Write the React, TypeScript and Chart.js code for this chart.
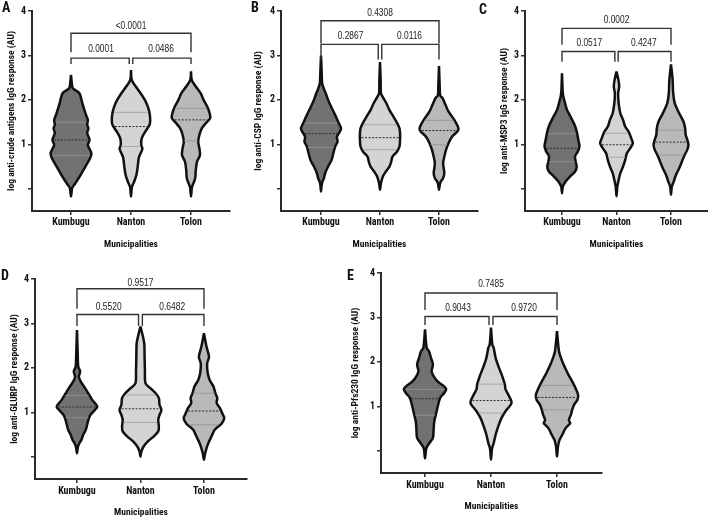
import React, { useEffect, useRef } from 'react';
import { Chart, registerables } from 'chart.js';

Chart.register(...registerables);

const FONT = '"Liberation Sans Narrow", "Roboto Condensed", Roboto, "Liberation Sans", sans-serif';
const PFONT = '"Liberation Sans", Arial, sans-serif';

const categories = ['Kumbugu', 'Nanton', 'Tolon'];
const yTickValues = [0, 1, 2, 3, 4];
const yTickLabels = ['', '1', '2', '3', '4'];
const xTitle = 'Municipalities';

// ---------- Panel A: crude antigens ----------
const aKumY = [2.56, 2.40, 2.26, 2.15, 1.92, 1.70, 1.55, 1.44, 1.36, 1.25, 1.10, 0.99, 0.80, 0.69, 0.50, 0.31, 0.12, 0.02, -0.17];
const aKumW = [0, 0.012, 0.03, 0.14, 0.19, 0.24, 0.28, 0.27, 0.29, 0.27, 0.31, 0.28, 0.34, 0.32, 0.24, 0.16, 0.07, 0.02, 0];
const aNanY = [2.67, 2.45, 2.30, 2.15, 2.00, 1.85, 1.70, 1.55, 1.44, 1.29, 1.14, 0.99, 0.90, 0.80, 0.70, 0.48, 0.31, 0.15, 0.04, -0.17];
const aNanW = [0, 0.012, 0.08, 0.16, 0.23, 0.28, 0.31, 0.32, 0.31, 0.24, 0.18, 0.17, 0.19, 0.16, 0.13, 0.11, 0.09, 0.05, 0.015, 0];
const aTolY = [2.64, 2.45, 2.30, 2.15, 2.00, 1.85, 1.70, 1.59, 1.48, 1.36, 1.21, 1.06, 0.91, 0.76, 0.61, 0.42, 0.24, 0.12, 0.03, -0.17];
const aTolW = [0, 0.012, 0.08, 0.16, 0.21, 0.27, 0.31, 0.32, 0.25, 0.18, 0.14, 0.12, 0.14, 0.15, 0.10, 0.08, 0.07, 0.04, 0.015, 0];
const aMedians = [1.10, 1.40, 1.55];
const aUpperQ = [1.50, 1.72, 1.81];
const aLowerQ = [0.75, 0.95, 1.08];
const aPvals = ['0.0001', '0.0486', '<0.0001'];

// ---------- Panel B: CSP ----------
const bKumY = [3.00, 2.60, 2.37, 2.26, 2.15, 2.00, 1.85, 1.66, 1.51, 1.36, 1.29, 1.17, 1.06, 0.95, 0.80, 0.65, 0.50, 0.35, 0.24, 0.12, -0.06];
const bKumW = [0, 0.012, 0.02, 0.045, 0.08, 0.12, 0.17, 0.24, 0.29, 0.34, 0.32, 0.27, 0.28, 0.24, 0.21, 0.18, 0.12, 0.07, 0.05, 0.015, 0];
const bNanY = [2.85, 2.40, 2.15, 2.07, 1.92, 1.77, 1.62, 1.48, 1.36, 1.25, 1.10, 0.95, 0.84, 0.72, 0.61, 0.50, 0.39, 0.28, 0.12, -0.02];
const bNanW = [0, 0.012, 0.015, 0.045, 0.11, 0.16, 0.23, 0.29, 0.33, 0.34, 0.34, 0.33, 0.29, 0.21, 0.19, 0.16, 0.10, 0.05, 0.015, 0];
const bTolY = [2.76, 2.30, 2.10, 2.04, 1.89, 1.74, 1.59, 1.48, 1.36, 1.29, 1.17, 1.02, 0.88, 0.72, 0.58, 0.46, 0.35, 0.24, 0.16, 0.10, -0.02];
const bTolW = [0, 0.012, 0.02, 0.06, 0.11, 0.16, 0.24, 0.29, 0.33, 0.31, 0.22, 0.16, 0.12, 0.09, 0.07, 0.08, 0.09, 0.07, 0.03, 0.015, 0];
const bMedians = [1.24, 1.15, 1.31];
const bUpperQ = [1.48, 1.44, 1.54];
const bLowerQ = [0.93, 0.88, 0.99];
const bPvals = ['0.2867', '0.0116', '0.4308'];

// ---------- Panel C: MSP3 ----------
const cKumY = [2.60, 2.20, 2.07, 2.00, 1.78, 1.59, 1.44, 1.29, 1.10, 0.95, 0.84, 0.73, 0.61, 0.50, 0.39, 0.28, 0.17, 0.05, -0.10];
const cKumW = [0, 0.012, 0.025, 0.04, 0.09, 0.17, 0.23, 0.27, 0.30, 0.32, 0.29, 0.24, 0.25, 0.27, 0.24, 0.15, 0.07, 0.015, 0];
const cNanY = [2.64, 2.45, 2.30, 2.15, 1.92, 1.70, 1.55, 1.40, 1.29, 1.14, 1.02, 0.91, 0.80, 0.65, 0.50, 0.35, 0.20, 0.05, -0.17];
const cNanW = [0, 0.035, 0.05, 0.03, 0.04, 0.07, 0.12, 0.16, 0.22, 0.27, 0.30, 0.25, 0.19, 0.16, 0.12, 0.07, 0.04, 0.015, 0];
const cTolY = [2.80, 2.45, 2.15, 1.92, 1.70, 1.51, 1.36, 1.21, 1.10, 0.99, 0.88, 0.76, 0.61, 0.46, 0.31, 0.16, 0.05, -0.13];
const cTolW = [0, 0.03, 0.04, 0.07, 0.15, 0.23, 0.26, 0.27, 0.30, 0.32, 0.30, 0.25, 0.20, 0.15, 0.09, 0.05, 0.015, 0];
const cMedians = [0.91, 0.99, 1.05];
const cUpperQ = [1.24, 1.25, 1.32];
const cLowerQ = [0.61, 0.71, 0.76];
const cPvals = ['0.0517', '0.4247', '0.0002'];

// ---------- Panel D: GLURP ----------
const dKumY = [2.85, 2.30, 2.03, 1.92, 1.80, 1.69, 1.54, 1.40, 1.28, 1.13, 1.05, 0.94, 0.83, 0.72, 0.61, 0.50, 0.38, 0.31, 0.22, 0.08];
const dKumW = [0, 0.012, 0.02, 0.05, 0.03, 0.06, 0.13, 0.19, 0.24, 0.32, 0.28, 0.21, 0.18, 0.16, 0.14, 0.10, 0.07, 0.04, 0.015, 0];
const dNanY = [2.93, 2.70, 2.55, 2.25, 1.95, 1.65, 1.54, 1.43, 1.32, 1.17, 1.05, 0.94, 0.83, 0.68, 0.57, 0.46, 0.35, 0.23, 0.12, 0.0];
const dNanW = [0, 0.04, 0.06, 0.065, 0.07, 0.08, 0.16, 0.24, 0.29, 0.30, 0.33, 0.30, 0.28, 0.29, 0.28, 0.21, 0.12, 0.05, 0.015, 0];
const dTolY = [2.78, 2.48, 2.25, 2.10, 1.88, 1.73, 1.58, 1.43, 1.32, 1.21, 1.10, 0.94, 0.87, 0.75, 0.61, 0.46, 0.31, 0.19, 0.05, -0.07];
const dTolW = [0, 0.04, 0.08, 0.05, 0.06, 0.09, 0.15, 0.18, 0.21, 0.20, 0.25, 0.30, 0.32, 0.28, 0.17, 0.12, 0.07, 0.04, 0.015, 0];
const dMedians = [1.12, 1.08, 1.03];
const dUpperQ = [1.38, 1.39, 1.43];
const dLowerQ = [0.88, 0.77, 0.72];
const dPvals = ['0.5520', '0.6482', '0.9517'];

// ---------- Panel E: Pfs230 ----------
const eKumY = [2.73, 2.32, 2.24, 2.09, 1.94, 1.79, 1.68, 1.56, 1.45, 1.38, 1.30, 1.19, 1.04, 0.85, 0.66, 0.47, 0.29, 0.18, 0.06, -0.17];
const eKumW = [0, 0.025, 0.06, 0.09, 0.12, 0.10, 0.13, 0.19, 0.29, 0.32, 0.29, 0.23, 0.20, 0.17, 0.14, 0.13, 0.12, 0.07, 0.02, 0];
const eNanY = [2.77, 2.39, 2.32, 2.09, 1.87, 1.68, 1.49, 1.38, 1.27, 1.11, 1.04, 0.89, 0.74, 0.55, 0.36, 0.17, 0.05, -0.20];
const eNanW = [0, 0.02, 0.04, 0.07, 0.12, 0.17, 0.21, 0.22, 0.26, 0.31, 0.30, 0.22, 0.16, 0.11, 0.07, 0.04, 0.015, 0];
const eTolY = [2.69, 2.24, 2.09, 1.94, 1.75, 1.56, 1.41, 1.26, 1.15, 1.04, 0.92, 0.81, 0.69, 0.62, 0.51, 0.36, 0.25, 0.10, -0.13];
const eTolW = [0, 0.03, 0.06, 0.10, 0.16, 0.23, 0.28, 0.32, 0.31, 0.26, 0.23, 0.21, 0.18, 0.20, 0.13, 0.08, 0.04, 0.015, 0];
const eMedians = [1.17, 1.13, 1.20];
const eUpperQ = [1.38, 1.50, 1.47];
const eLowerQ = [0.80, 0.85, 0.92];
const ePvals = ['0.9043', '0.9720', '0.7485'];

const fillColors = ['#727272', '#d4d4d4', '#b9b9b9'];
const quartColors = ['#8e8e8e', '#a8a8a8', '#9a9a9a'];

type Panel = {
  letter: string;
  yTitle: string;
  profiles: [number[], number[]][];
  medians: number[];
  upperQ: number[];
  lowerQ: number[];
  pvals: string[];
  bracket: { topY: number; topLeg: number; topLabel: number; lowY: number; lowLeg: number; lowLabel: number };
  box: { left: number; top: number; w: number; h: number };
  pad: { top: number; right: number };
  yw: number; xh: number; yTitlePad: number; xTitlePad: number; xTickPad: number;
  xmin: number; xmax: number;
  letterPos: { left: number; top: number };
};

const panels: Panel[] = [
  {
    letter: 'A', yTitle: 'log anti-crude antigens IgG response (AU)',
    profiles: [[aKumY, aKumW], [aNanY, aNanW], [aTolY, aTolW]],
    medians: aMedians, upperQ: aUpperQ, lowerQ: aLowerQ, pvals: aPvals,
    bracket: { topY: 3.5, topLeg: 3.07, topLabel: 3.66, lowY: 2.94, lowLeg: 2.81, lowLabel: 3.14 },
    box: { left: 0, top: 0, w: 235, h: 255 }, pad: { top: 11, right: 5 },
    yw: 32, xh: 44, yTitlePad: 6, xTitlePad: 5, xTickPad: 1.5,
    xmin: 0.35, xmax: 3.65, letterPos: { left: 2, top: 0 },
  },
  {
    letter: 'B', yTitle: 'log anti-CSP IgG response (AU)',
    profiles: [[bKumY, bKumW], [bNanY, bNanW], [bTolY, bTolW]],
    medians: bMedians, upperQ: bUpperQ, lowerQ: bLowerQ, pvals: bPvals,
    bracket: { topY: 3.78, topLeg: 3.27, topLabel: 3.95, lowY: 3.25, lowLeg: 2.91, lowLabel: 3.44 },
    box: { left: 235, top: 0, w: 245, h: 255 }, pad: { top: 11, right: 2 },
    yw: 46, xh: 44, yTitlePad: 17.5, xTitlePad: 5, xTickPad: 1.5,
    xmin: 0.322, xmax: 3.661, letterPos: { left: 251, top: 0 },
  },
  {
    letter: 'C', yTitle: 'log anti-MSP3 IgG response (AU)',
    profiles: [[cKumY, cKumW], [cNanY, cNanW], [cTolY, cTolW]],
    medians: cMedians, upperQ: cUpperQ, lowerQ: cLowerQ, pvals: cPvals,
    bracket: { topY: 3.61, topLeg: 3.24, topLabel: 3.80, lowY: 3.09, lowLeg: 2.86, lowLabel: 3.27 },
    box: { left: 482, top: 0, w: 226, h: 255 }, pad: { top: 11, right: 0 },
    yw: 43, xh: 44, yTitlePad: 16.5, xTitlePad: 5, xTickPad: 1.5,
    xmin: 0.321, xmax: 3.679, letterPos: { left: 479, top: 2 },
  },
  {
    letter: 'D', yTitle: 'log anti-GLURP IgG response (AU)',
    profiles: [[dKumY, dKumW], [dNanY, dNanW], [dTolY, dTolW]],
    medians: dMedians, upperQ: dUpperQ, lowerQ: dLowerQ, pvals: dPvals,
    bracket: { topY: 3.78, topLeg: 3.33, topLabel: 3.91, lowY: 3.20, lowLeg: 2.94, lowLabel: 3.36 },
    box: { left: 0, top: 255, w: 350, h: 263 }, pad: { top: 24, right: 103 },
    yw: 35, xh: 39, yTitlePad: 8.5, xTitlePad: 0, xTickPad: 2.5,
    xmin: 0.339, xmax: 3.678, letterPos: { left: 1, top: 268 },
  },
  {
    letter: 'E', yTitle: 'log anti-Pfs230 IgG response (AU)',
    profiles: [[eKumY, eKumW], [eNanY, eNanW], [eTolY, eTolW]],
    medians: eMedians, upperQ: eUpperQ, lowerQ: eLowerQ, pvals: ePvals,
    bracket: { topY: 3.55, topLeg: 3.17, topLabel: 3.74, lowY: 3.02, lowLeg: 2.83, lowLabel: 3.21 },
    box: { left: 350, top: 255, w: 358, h: 263 }, pad: { top: 18, right: 106 },
    yw: 31, xh: 45, yTitlePad: 0, xTitlePad: 5.5, xTickPad: 2,
    xmin: 0.333, xmax: 3.682, letterPos: { left: 347, top: 268 },
  },
];

function halfWidthAt(ys: number[], ws: number[], v: number): number {
  for (let i = 0; i < ys.length - 1; i++) {
    const a = ys[i];
    const b = ys[i + 1];
    if (v <= a && v >= b) {
      const t = (a - v) / (a - b);
      return ws[i] + t * (ws[i + 1] - ws[i]);
    }
  }
  return 0;
}

function violinPoints(center: number, ys: number[], ws: number[]) {
  const right = ys.map((y, i) => ({ x: center + ws[i], y }));
  const left = ys.map((y, i) => ({ x: center - ws[i], y })).reverse();
  return right.concat(left.slice(1));
}

function buildDatasets(p: Panel) {
  const ds: any[] = [];
  const base = { pointRadius: 0, pointHoverRadius: 0, tension: 0, fill: false };
  p.medians.forEach((m, i) => {
    const c = i + 1;
    const hw = halfWidthAt(p.profiles[i][0], p.profiles[i][1], m) * 0.92;
    ds.push({ ...base, data: [{ x: c - hw, y: m }, { x: c + hw, y: m }], borderColor: '#2a2a2a', borderWidth: 1, borderDash: [2, 1.5] });
  });
  p.profiles.forEach((pr, i) => {
    const c = i + 1;
    [p.upperQ[i], p.lowerQ[i]].forEach((q) => {
      const hw = halfWidthAt(pr[0], pr[1], q) * 0.92;
      ds.push({ ...base, data: [{ x: c - hw, y: q }, { x: c + hw, y: q }], borderColor: quartColors[i], borderWidth: 1 });
    });
  });
  const b = p.bracket;
  const g = 0.03;
  const bracketStyle = { ...base, borderColor: '#333333', borderWidth: 1.4 };
  ds.push({ ...bracketStyle, data: [{ x: 1, y: b.topLeg }, { x: 1, y: b.topY }, { x: 3, y: b.topY }, { x: 3, y: b.topLeg }] });
  ds.push({ ...bracketStyle, data: [{ x: 1, y: b.lowLeg }, { x: 1, y: b.lowY }, { x: 2 - g, y: b.lowY }, { x: 2 - g, y: b.lowLeg }] });
  ds.push({ ...bracketStyle, data: [{ x: 2 + g, y: b.lowLeg }, { x: 2 + g, y: b.lowY }, { x: 3, y: b.lowY }, { x: 3, y: b.lowLeg }] });
  p.profiles.forEach((pr, i) => {
    ds.push({
      ...base,
      data: violinPoints(i + 1, pr[0], pr[1]),
      tension: 0.3,
      fill: 'shape',
      backgroundColor: fillColors[i],
      borderColor: '#111111',
      borderWidth: 2.5,
      borderJoinStyle: 'round',
    });
  });
  return ds;
}

function PanelChart({ p }: { p: Panel }) {
  const ref = useRef<HTMLCanvasElement | null>(null);
  useEffect(() => {
    if (!ref.current) return;
    const pvalPlugin = {
      id: 'pvalText' + p.letter,
      afterDatasetsDraw(chart: any) {
        const ctx = chart.ctx;
        const xs = chart.scales.x;
        const ys = chart.scales.y;
        const b = p.bracket;
        const items: [string, number, number][] = [
          [p.pvals[0], 1.5, b.lowLabel],
          [p.pvals[1], 2.5, b.lowLabel],
          [p.pvals[2], 2, b.topLabel],
        ];
        ctx.save();
        ctx.fillStyle = '#222';
        ctx.font = `10.5px ${PFONT}`;
        ctx.textAlign = 'center';
        ctx.textBaseline = 'middle';
        items.forEach(([t, xv, yv]) => {
          const px = xs.getPixelForValue(xv);
          const py = ys.getPixelForValue(yv);
          ctx.save();
          ctx.translate(px, py);
          ctx.scale(0.8, 1);
          ctx.fillText(t, 0, 0);
          ctx.restore();
        });
        ctx.restore();
      },
    };
    const chart = new Chart(ref.current, {
      type: 'line',
      data: { datasets: buildDatasets(p) },
      options: {
        responsive: false,
        animation: false,
        events: [],
        layout: { padding: { top: p.pad.top, right: p.pad.right, left: 0, bottom: 0 } },
        plugins: { legend: { display: false }, tooltip: { enabled: false }, title: { display: false } },
        scales: {
          x: {
            type: 'linear',
            min: p.xmin,
            max: p.xmax,
            afterBuildTicks: (s: any) => { s.ticks = [1, 2, 3].map((v) => ({ value: v })); },
            afterFit: (s: any) => { s.height = p.xh; },
            ticks: {
              callback: (_v: any, i: number) => categories[i],
              font: { family: FONT, size: 10, weight: 'bold' },
              color: '#111',
              padding: p.xTickPad,
              maxRotation: 0,
              autoSkip: false,
            },
            grid: { drawOnChartArea: false, drawTicks: true, tickLength: 4, color: '#333', lineWidth: 1.5 },
            border: { display: true, color: '#2a2a2a', width: 2 },
            title: { display: true, text: xTitle, font: { family: FONT, size: 9.5, weight: 'bold' }, color: '#111', padding: { top: 0, bottom: p.xTitlePad } },
          },
          y: {
            type: 'linear',
            min: -0.5,
            max: 4,
            afterBuildTicks: (s: any) => { s.ticks = yTickValues.map((v) => ({ value: v })); },
            afterFit: (s: any) => { s.width = p.yw; },
            ticks: {
              callback: (_v: any, i: number) => yTickLabels[i],
              font: { family: FONT, size: 10, weight: 'bold' },
              color: '#111',
              padding: 2,
            },
            grid: { drawOnChartArea: false, drawTicks: true, tickLength: 4, color: '#333', lineWidth: 1.5 },
            border: { display: true, color: '#2a2a2a', width: 2 },
            title: { display: true, text: p.yTitle, font: { family: FONT, size: 9.5, weight: 'bold' }, color: '#111', padding: { top: p.yTitlePad, bottom: 0 } },
          },
        },
      },
      plugins: [pvalPlugin],
    } as any);
    return () => chart.destroy();
  }, [p]);
  return (
    <canvas
      ref={ref}
      width={p.box.w}
      height={p.box.h}
      style={{ position: 'absolute', left: p.box.left, top: p.box.top, width: p.box.w, height: p.box.h }}
    />
  );
}

export default function App() {
  return (
    <div style={{ position: 'absolute', left: 0, top: 0, width: 708, height: 518, background: '#ffffff', overflow: 'hidden' }}>
      {panels.map((p) => (
        <PanelChart key={p.letter} p={p} />
      ))}
      {panels.map((p) => (
        <div
          key={'l' + p.letter}
          style={{
            position: 'absolute',
            left: p.letterPos.left,
            top: p.letterPos.top,
            fontFamily: FONT,
            fontWeight: 'bold',
            fontSize: 14,
            lineHeight: '14px',
            color: '#111',
          }}
        >
          {p.letter}
        </div>
      ))}
    </div>
  );
}
